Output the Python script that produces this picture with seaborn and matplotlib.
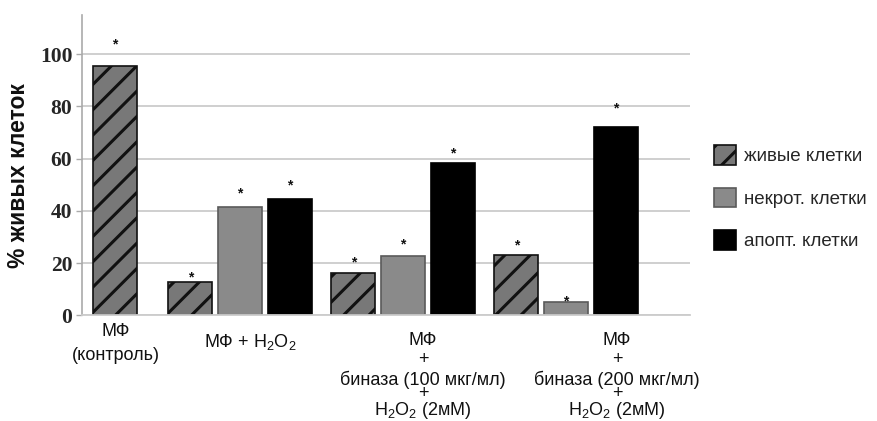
import numpy as np
import pandas as pd
import matplotlib
matplotlib.use("Agg")
import matplotlib.pyplot as plt
import seaborn as sns
from matplotlib.patches import Patch
from matplotlib.colors import to_hex

# ── Données ───────────────────────────────────
group_lines = [
    ["МФ", "(контроль)"],
    ["МФ + H$_2$O$_2$"],
    ["МФ", "+", "биназа (100 мкг/мл)", "+", "H$_2$O$_2$ (2мМ)"],
    ["МФ", "+", "биназа (200 мкг/мл)", "+", "H$_2$O$_2$ (2мМ)"],
]
cell_types = ["живые клетки", "некрот. клетки", "апопт. клетки"]

live   = [95.4, 12.9, 16.2, 23.0]
necrot = [np.nan, 41.4, 22.7, 5.0]
apopt  = [np.nan, 44.4, 58.2, 72.2]

# hauteur des astérisques (significativité)
star_live   = [103.8, 14.7, 20.1, 26.6]
star_necrot = [np.nan, 46.5, 27.3, 5.2]
star_apopt  = [np.nan, 49.9, 62.1, 79.3]

yticks = [0, 20, 40, 60, 80, 100]

# ── Mise en page ──────────────────────────────
# dpi réduit pour que les hachures aient le bon pas ; K remet les tailles en place
DPI = 76
K = 100 / DPI
GROUP_X = [0.233, 1, 2, 3]              # centre des groupes de barres (échelle native)
LABEL_X = [0.239, 1.061, 2.123, 3.313]  # centre des étiquettes
LINE_PX = [[332, 356], [342], [341, 360, 380, 394, 411], [341, 360, 380, 394, 411]]
Y0_PX, AX_H_PX = 315.5, 300.7
colors = {"живые клетки": "#787878", "некрот. клетки": "#8a8a8a", "апопт. клетки": "#000000"}
edges = {"живые клетки": "#111111", "некрот. клетки": "#5a5a5a", "апопт. клетки": "#000000"}

sns.set_theme(style="whitegrid")
plt.rcParams["font.family"] = ["Liberation Sans", "DejaVu Sans"]
plt.rcParams["mathtext.fontset"] = "custom"
plt.rcParams["mathtext.rm"] = "Liberation Sans"
plt.rcParams["mathtext.it"] = "Liberation Sans:italic"
plt.rcParams["hatch.linewidth"] = 2.2 * K
plt.rcParams["hatch.color"] = "#111111"

# tableau long
rows = []
for i in range(len(group_lines)):
    for t, vals in zip(cell_types, [live, necrot, apopt]):
        if not np.isnan(vals[i]):
            rows.append({"grp": i, "x": GROUP_X[i], "type": t, "value": vals[i]})
df = pd.DataFrame(rows)

fig = plt.figure(figsize=(877 / DPI, 421 / DPI), dpi=DPI)
ax = fig.add_axes([0.0935, 0.2506, 0.6933, 0.7142])

# groupe 1 : une seule barre
sns.barplot(data=df[df.grp == 0], x="x", y="value", hue="type", hue_order=cell_types,
            palette=colors, saturation=1, native_scale=True, width=0.27, dodge=False,
            errorbar=None, legend=False, ax=ax)
# groupes 2-4 : trois barres
sns.barplot(data=df[df.grp > 0], x="x", y="value", hue="type", hue_order=cell_types,
            palette=colors, saturation=1, native_scale=True, width=0.915, gap=0.115,
            dodge=True, errorbar=None, legend=False, ax=ax)

# on retrouve les barres de chaque série par leur couleur
hex2type = {to_hex(c): t for t, c in colors.items()}
by_type = {t: [] for t in cell_types}
for p in ax.patches:
    t = hex2type.get(to_hex(p.get_facecolor()))
    if t is not None:
        by_type[t].append(p)

stars = {"живые клетки": star_live, "некрот. клетки": star_necrot, "апопт. клетки": star_apopt}
for t in cell_types:
    bars = sorted(by_type[t], key=lambda p: p.get_x())
    for p in bars:
        p.set_edgecolor(edges[t])
        p.set_linewidth(1.2 * K)
        if t == "живые клетки":
            p.set_hatch("/")
    ys = [s for s in stars[t] if not np.isnan(s)]
    for p, s in zip(bars, ys):
        ax.text(p.get_x() + p.get_width() / 2, s, "*", ha="center", va="center",
                fontsize=10 * K, fontweight="bold", color="#111111")

# axes
ax.set_xlim(0.03, 3.76)
ax.set_ylim(0, 115)
ax.set_xticks([])
ax.set_xlabel("")
ax.set_yticks(yticks)
ax.set_yticklabels([str(v) for v in yticks], family="Liberation Serif",
                   fontweight="bold", fontsize=15.5 * K)
ax.tick_params(axis="y", left=True, length=4 * K, width=1 * K, color="#aaaaaa", pad=3 * K)
ax.grid(axis="y", color="#cccccc", linewidth=1.3 * K)
ax.grid(axis="x", visible=False)
ax.set_axisbelow(True)
for s in ["top", "right"]:
    ax.spines[s].set_visible(False)
ax.spines["left"].set_color("#aaaaaa")
ax.spines["bottom"].set_color("#cccccc")
ax.spines["left"].set_linewidth(1.2 * K)
ax.spines["bottom"].set_linewidth(1.3 * K)

ax.set_ylabel("% живых клеток", fontsize=16.5 * K, fontweight="bold", color="#111111")
ax.yaxis.set_label_coords(-0.0855, 0.467)

# étiquettes des groupes, ligne par ligne
for i, lines in enumerate(group_lines):
    for line, py in zip(lines, LINE_PX[i]):
        ax.text(LABEL_X[i], (Y0_PX - py) / AX_H_PX, line, transform=ax.get_xaxis_transform(),
                ha="center", va="center", fontsize=13 * K, color="#111111")

handles = [Patch(facecolor=colors[t], edgecolor=edges[t], linewidth=1.2 * K,
                 hatch="/" if t == "живые клетки" else None) for t in cell_types]
fig.legend(handles, cell_types, loc="center left", bbox_to_anchor=(0.814, 0.53),
           frameon=False, fontsize=13.5 * K, handlelength=1.2, handleheight=1.2,
           labelspacing=1.2, handletextpad=0.4, borderaxespad=0, borderpad=0)

fig.savefig("out.png", dpi=DPI)
